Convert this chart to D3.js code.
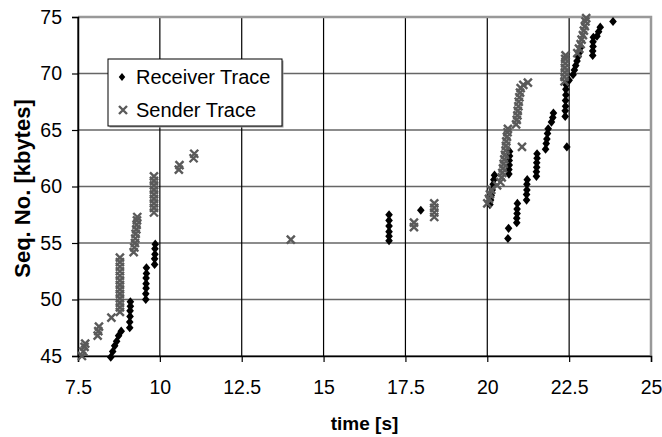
<!DOCTYPE html>
<html>
<head>
<meta charset="utf-8">
<script src="https://cdn.jsdelivr.net/npm/d3@7"></script>
<style>
  body { margin: 0; background: #fff; }
  svg { display: block; }
</style>
</head>
<body>
<div class="chart"></div>
<script>

// receiver trace (black diamonds): time [s] and seq no [kbytes]
var receiverTime = [
  8.50, 8.56, 8.62, 8.68, 8.74, 8.82,
  9.08, 9.08, 9.09, 9.09, 9.10, 9.10,
  9.57, 9.57, 9.58, 9.58, 9.58, 9.59, 9.59,
  9.84, 9.84, 9.85, 9.85, 9.86,
  17.0, 17.0, 17.0, 17.0, 17.0, 17.0,
  17.97,
  20.08, 20.10, 20.12, 20.15, 20.18, 20.20, 20.22,
  20.63, 20.65,
  20.66, 20.66, 20.67, 20.67, 20.68, 20.68,
  20.90, 20.90, 20.91, 20.91, 20.92,
  21.20, 21.20, 21.21, 21.21, 21.22,
  21.50, 21.50, 21.51, 21.51, 21.52, 21.52,
  21.78, 21.80, 21.82, 21.84, 21.86,
  21.96, 22.00, 22.02,
  22.43,
  22.38, 22.38, 22.39, 22.39, 22.40, 22.40, 22.41,
  22.50,
  22.62, 22.66, 22.70, 22.74, 22.78, 22.83, 22.85,
  23.22, 23.22, 23.23, 23.23, 23.24,
  23.35, 23.40, 23.45,
  23.84
];
var receiverSeq = [
  44.9, 45.4, 45.9, 46.3, 46.8, 47.2,
  47.5, 48.0, 48.5, 49.0, 49.4, 49.8,
  50.0, 50.5, 51.0, 51.4, 51.9, 52.3, 52.8,
  53.1, 53.6, 54.0, 54.5, 54.9,
  55.2, 55.6, 56.0, 56.5, 57.0, 57.5,
  57.9,
  58.4, 58.8, 59.2, 59.7, 60.2, 60.6, 61.0,
  55.4, 56.3,
  61.1, 61.5, 61.9, 62.3, 62.7, 63.1,
  56.8, 57.2, 57.6, 58.0, 58.5,
  58.8, 59.3, 59.7, 60.2, 60.6,
  60.9, 61.3, 61.7, 62.1, 62.5, 62.9,
  63.3, 63.8, 64.2, 64.7, 65.1,
  65.7, 66.1, 66.5,
  63.5,
  66.2, 66.7, 67.1, 67.6, 68.1, 68.6, 69.0,
  69.4,
  69.9, 70.3, 70.7, 71.1, 71.5, 71.9, 72.3,
  71.6, 72.0, 72.4, 72.8, 73.2,
  73.3, 73.7, 74.1,
  74.6
];

// sender trace (grey crosses)
var senderTime = [
  7.62, 7.66, 7.70, 7.72,
  8.10, 8.12, 8.14,
  8.52,
  8.78, 8.78, 8.78, 8.78, 8.78, 8.78, 8.78, 8.78, 8.78, 8.78, 8.78, 8.78, 8.78,
  9.20, 9.22, 9.24, 9.25, 9.26, 9.28, 9.29, 9.30, 9.31,
  9.82, 9.82, 9.82, 9.82, 9.82, 9.82, 9.82, 9.82, 9.82,
  10.58, 10.60,
  11.03, 11.05,
  14.0,
  17.76, 17.76,
  18.38, 18.38, 18.38, 18.38,
  20.00, 20.05, 20.08, 20.12, 20.30,
  20.40, 20.44, 20.46, 20.48, 20.50, 20.52, 20.54, 20.56, 20.57, 20.58, 20.60, 20.62, 20.63,
  20.88, 20.90, 20.92, 20.93, 20.95, 20.96, 20.98, 21.00, 21.02,
  21.06,
  21.10, 21.24,
  22.36, 22.36, 22.37, 22.37, 22.38, 22.38, 22.39,
  22.75, 22.80, 22.85, 22.88, 22.92, 22.95, 22.98, 23.00, 23.02
];
var senderSeq = [
  45.0, 45.4, 45.8, 46.1,
  46.8, 47.2, 47.6,
  48.4,
  48.9, 49.3, 49.7, 50.1, 50.5, 50.9, 51.3, 51.7, 52.1, 52.5, 52.9, 53.3, 53.7,
  54.2, 54.6, 55.0, 55.4, 55.8, 56.2, 56.6, 57.0, 57.3,
  57.7, 58.1, 58.5, 58.9, 59.3, 59.7, 60.1, 60.5, 60.9,
  61.5, 61.9,
  62.5, 62.9,
  55.3,
  56.4, 56.8,
  57.3, 57.7, 58.1, 58.5,
  58.5, 58.9, 59.3, 59.7, 60.1,
  60.4, 60.8, 61.2, 61.6, 62.0, 62.4, 62.8, 63.2, 63.6, 64.0, 64.4, 64.8, 65.1,
  65.5, 65.9, 66.3, 66.7, 67.1, 67.5, 67.9, 68.3, 68.7,
  63.5,
  69.0, 69.2,
  69.3, 69.7, 70.1, 70.5, 70.9, 71.3, 71.6,
  71.8, 72.2, 72.6, 73.0, 73.4, 73.8, 74.2, 74.6, 74.9
];

var xTicks = [7.5, 10, 12.5, 15, 17.5, 20, 22.5, 25];
var yTicks = [45, 50, 55, 60, 65, 70, 75];
var seriesNames = ["Receiver Trace", "Sender Trace"];

var W = 662, H = 437;
var margin = {top: 17, right: 11, bottom: 81, left: 78};
var width = W - margin.left - margin.right,
    height = H - margin.top - margin.bottom;
var font = "'Liberation Sans', Arial, sans-serif";
var crossColor = "#5a5a5a";

var svg = d3.select(".chart")
  .append("svg")
    .attr("width", W)
    .attr("height", H);

var g = svg.append("g")
  .attr("transform", "translate(" + margin.left + "," + margin.top + ")");

var x = d3.scaleLinear().domain([7.5, 25]).range([0, width]);
var y = d3.scaleLinear().domain([45, 75]).range([height, 0]);

// grid
g.selectAll(".hgrid")
  .data(yTicks)
  .enter().append("line")
    .attr("x1", 0).attr("x2", width)
    .attr("y1", function(d) { return y(d); })
    .attr("y2", function(d) { return y(d); })
    .style("stroke", "#666")
    .style("stroke-width", 1.5);

g.selectAll(".vgrid")
  .data(xTicks)
  .enter().append("line")
    .attr("y1", 0).attr("y2", height)
    .attr("x1", function(d) { return x(d); })
    .attr("x2", function(d) { return x(d); })
    .style("stroke", "#000")
    .style("stroke-width", 1.2);

// top / right border (grey)
g.append("path")
  .attr("d", "M0,0H" + width + "V" + height)
  .style("fill", "none")
  .style("stroke", "#999")
  .style("stroke-width", 2.5);

// axes
var xAxis = g.append("g")
  .attr("transform", "translate(0," + height + ")")
  .call(d3.axisBottom(x).tickValues(xTicks).tickSize(6).tickPadding(18)
    .tickFormat(function(d) { return String(d); }));

var yAxis = g.append("g")
  .call(d3.axisLeft(y).tickValues(yTicks).tickSize(6).tickPadding(10));

[xAxis, yAxis].forEach(function(a) {
  a.select(".domain").style("stroke", "#000").style("stroke-width", 1.5);
  a.selectAll(".tick line").style("stroke", "#000").style("stroke-width", 1.2);
  a.selectAll("text")
    .style("font-family", font)
    .style("font-size", "19.5px")
    .style("fill", "#000");
});

// markers
var diamond = "M0,-4.6L3.8,0L0,4.6L-3.8,0Z";
var cross = "M-4,-4L4,4M-4,4L4,-4";

g.selectAll(".receiver")
  .data(d3.range(receiverTime.length))
  .enter().append("path")
    .attr("class", "receiver")
    .attr("d", diamond)
    .attr("transform", function(i) {
      return "translate(" + x(receiverTime[i]) + "," + y(receiverSeq[i]) + ")";
    })
    .style("fill", "#000");

g.selectAll(".sender")
  .data(d3.range(senderTime.length))
  .enter().append("path")
    .attr("class", "sender")
    .attr("d", cross)
    .attr("transform", function(i) {
      return "translate(" + x(senderTime[i]) + "," + y(senderSeq[i]) + ")";
    })
    .style("fill", "none")
    .style("stroke", crossColor)
    .style("stroke-width", 2.4);

// legend
var legend = svg.append("g").attr("transform", "translate(108,59)");
legend.append("rect")
  .attr("x", 1.5).attr("y", 1.5)
  .attr("width", 174).attr("height", 67)
  .style("fill", "#999");
legend.append("rect")
  .attr("width", 174).attr("height", 67)
  .style("fill", "#fff")
  .style("stroke", "#000")
  .style("stroke-width", 1);

legend.append("path")
  .attr("d", diamond)
  .attr("transform", "translate(14,18) scale(0.85)")
  .style("fill", "#000");
legend.append("path")
  .attr("d", cross)
  .attr("transform", "translate(15,51)")
  .style("fill", "none")
  .style("stroke", crossColor)
  .style("stroke-width", 2.4);

legend.selectAll(".ltext")
  .data(seriesNames)
  .enter().append("text")
    .attr("x", 28)
    .attr("y", function(d, i) { return 25 + i * 33; })
    .style("font-family", font)
    .style("font-size", "20px")
    .style("fill", "#000")
    .text(function(d) { return d; });

// axis titles
svg.append("text")
  .attr("x", margin.left + width / 2)
  .attr("y", 430)
  .style("text-anchor", "middle")
  .style("font-family", font)
  .style("font-size", "19px")
  .style("font-weight", "bold")
  .text("time [s]");

svg.append("text")
  .attr("transform", "translate(30," + (margin.top + height / 2 + 2) + ") rotate(-90)")
  .style("text-anchor", "middle")
  .style("font-family", font)
  .style("font-size", "22px")
  .style("font-weight", "bold")
  .text("Seq. No. [kbytes]");

</script>
</body>
</html>
